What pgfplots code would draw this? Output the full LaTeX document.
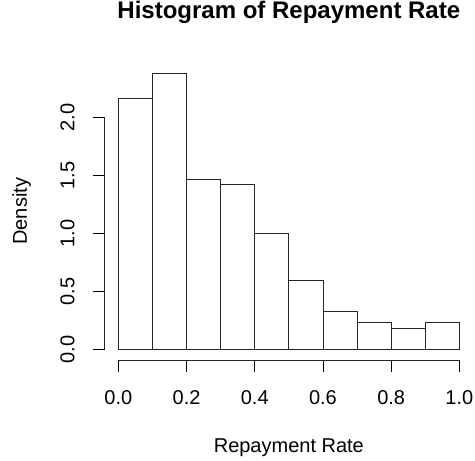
\documentclass[border=0pt]{standalone}
\usepackage{pgfplots}
\pgfplotsset{compat=1.18}
\usepackage{fontspec}
\setmainfont{Liberation Sans}
\begin{document}
\begin{tikzpicture}
\path[use as bounding box] (0,0) rectangle (475bp,461bp);
\begin{axis}[
  at={(104.7bp,100.7bp)}, anchor=south west,
  scale only axis, width=368.3bp, height=298bp,
  xmin=-0.04, xmax=1.04, ymin=-0.0952, ymax=2.4752,
  axis x line*=bottom, axis y line*=left,
  axis line style={draw=none},
  xtick={0,0.2,0.4,0.6,0.8,1.0},
  ytick={0,0.5,1.0,1.5,2.0},
  tick align=outside,
  major tick length=11.5bp,
  tick style={black, line width=0.8bp},
  /pgf/number format/assume math mode=true,
  /pgf/number format/.cd, fixed, fixed zerofill, precision=1, /pgfplots/.cd,
  tick label style={font=\fontsize{20bp}{24bp}\selectfont, inner sep=0pt},
  xticklabel style={anchor=north},
  yticklabel style={rotate=90, anchor=south},
  xticklabel shift=18.5bp,
  yticklabel shift=18.5bp,
  title={Histogram of Repayment Rate},
  title style={font=\bfseries\fontsize{24bp}{28bp}\selectfont, at={(axis description cs:0.5,1.1285)}, anchor=base, inner sep=0pt},
  xlabel={Repayment Rate},
  xlabel style={font=\fontsize{20bp}{24bp}\selectfont, at={(axis description cs:0.5,-0.311)}, anchor=base, inner sep=0pt},
  ylabel={Density},
  ylabel style={font=\fontsize{20bp}{24bp}\selectfont, at={(axis description cs:-0.211,0.5)}, rotate=0, anchor=base, inner sep=0pt},
  clip=false,
]
\addplot[ybar interval, fill=white, draw=black!85, line width=0.8bp] coordinates {
  (0.0,2.164) (0.1,2.379) (0.2,1.468) (0.3,1.425) (0.4,1.000)
  (0.5,0.590) (0.6,0.330) (0.7,0.233) (0.8,0.181) (0.9,0.233) (1.0,0.233)
};
\draw[black!85, line width=0.8bp] (axis cs:0,-0.0952) -- (axis cs:1,-0.0952);
\draw[black!85, line width=0.8bp] (axis cs:-0.04,0) -- (axis cs:-0.04,2);
\end{axis}
\end{tikzpicture}
\end{document}
